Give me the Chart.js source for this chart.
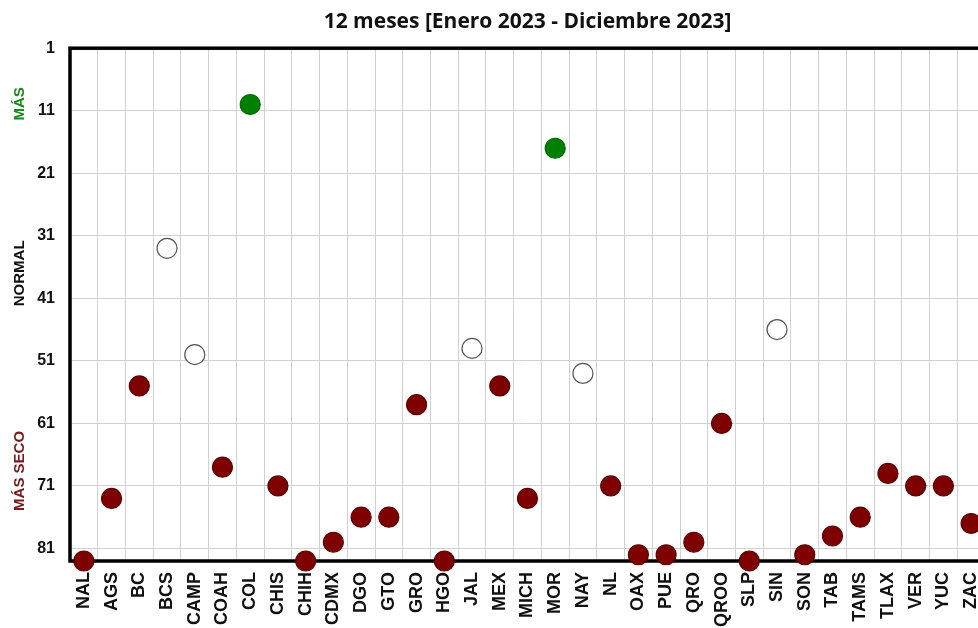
<!DOCTYPE html>
<html>
<head>
<meta charset="utf-8">
<script src="https://cdn.jsdelivr.net/npm/chart.js@4"></script>
<style>
  html, body { margin: 0; padding: 0; background: #fff; overflow: hidden; }
  #wrap { width: 1054px; height: 628px; }
</style>
</head>
<body>
<div id="wrap"><canvas id="rankChart" width="1054" height="628"></canvas></div>
<script>
// ----------------------------
// DATA
// ----------------------------
const titleText = "12 meses [Enero 2023 - Diciembre 2023]";

const states = [
  "NAL", "AGS", "BC", "BCS", "CAMP", "COAH", "COL", "CHIS", "CHIH", "CDMX", "DGO",
  "GTO", "GRO", "HGO", "JAL", "MEX", "MICH", "MOR", "NAY", "NL", "OAX", "PUE",
  "QRO", "QROO", "SLP", "SIN", "SON", "TAB", "TAMS", "TLAX", "VER", "YUC", "ZAC"
];

const ranks = [
  83, 73, 55, 33, 50, 68, 10, 71, 83, 80, 76,
  76, 58, 83, 49, 55, 73, 17, 53, 71, 82, 82,
  80, 61, 83, 46, 82, 79, 76, 69, 71, 71, 77
];

const yTicks = [1, 11, 21, 31, 41, 51, 61, 71, 81];
const yMin = 1;
const yMax = 83;

// side bands: text, centre rank, colour
const bandLabels = ["MÁS", "NORMAL", "MÁS SECO"];
const bandCenters = [9.9, 37, 68.6];
const bandColors = ["#1a8a1a", "#111111", "#7a1a1a"];

const tickFont = "'Liberation Sans', Arial, sans-serif";

// ----------------------------
// POINT STYLE (by rank band)
// ----------------------------
function pointFill(v) {
  if (v <= 20) return "#008000";
  if (v <= 54) return "#ffffff";
  return "#7f0000";
}
function pointEdge(v) {
  if (v <= 20) return "#006a00";
  if (v <= 54) return "#555555";
  return "#5a0000";
}

// ----------------------------
// PLUGINS
// ----------------------------
const frame = {
  id: "frame",
  beforeDatasetsDraw(chart) {
    const { ctx, chartArea: a } = chart;
    ctx.save();
    ctx.strokeStyle = "#000";
    ctx.lineWidth = 3.5;
    ctx.strokeRect(a.left, a.top, a.right - a.left, a.bottom - a.top);
    ctx.restore();
  }
};

const sideBands = {
  id: "sideBands",
  afterDraw(chart) {
    const { ctx, scales } = chart;
    ctx.save();
    ctx.font = "bold 15px " + tickFont;
    ctx.textAlign = "center";
    ctx.textBaseline = "middle";
    bandLabels.forEach((t, i) => {
      const y = scales.y.getPixelForValue(bandCenters[i]);
      ctx.save();
      ctx.translate(20, y);
      ctx.rotate(-Math.PI / 2);
      ctx.fillStyle = bandColors[i];
      ctx.fillText(t, 0, 0);
      ctx.restore();
    });
    ctx.restore();
  }
};

// ----------------------------
// CHART
// ----------------------------
new Chart(document.getElementById("rankChart"), {
  type: "line",
  data: {
    labels: states,
    datasets: [{
      data: ranks,
      showLine: false,
      clip: false,
      pointRadius: 10,
      pointHoverRadius: 10,
      pointBorderWidth: 1.2,
      pointBackgroundColor: ctx => pointFill(ctx.raw),
      pointBorderColor: ctx => pointEdge(ctx.raw)
    }]
  },
  plugins: [frame, sideBands],
  options: {
    responsive: false,
    animation: false,
    layout: { padding: { left: 0, right: 69, top: 0, bottom: 0 } },
    plugins: {
      legend: { display: false },
      tooltip: { enabled: false },
      title: {
        display: true,
        fullSize: false,
        text: titleText,
        color: "#111",
        font: { family: "'Open Sans'", size: 21, weight: "bold" },
        padding: { top: 9, bottom: 14 }
      }
    },
    scales: {
      x: {
        type: "category",
        offset: true,
        border: { display: false },
        grid: { offset: true, color: "#d0d0d0", lineWidth: 1, drawTicks: false },
        afterFit: s => { s.height = 67; },
        ticks: {
          minRotation: 90,
          maxRotation: 90,
          autoSkip: false,
          padding: 11,
          color: "#111",
          font: { family: tickFont, size: 18, weight: "bold" }
        }
      },
      y: {
        reverse: true,
        min: yMin,
        max: yMax,
        afterBuildTicks: s => { s.ticks = yTicks.map(v => ({ value: v })); },
        afterFit: s => { s.width = 70; },
        border: { display: false },
        grid: { color: "#d0d0d0", lineWidth: 1, drawTicks: false },
        ticks: {
          padding: 15,
          color: "#111",
          font: { family: tickFont, size: 16, weight: "bold" }
        }
      }
    }
  }
});
</script>
</body>
</html>
